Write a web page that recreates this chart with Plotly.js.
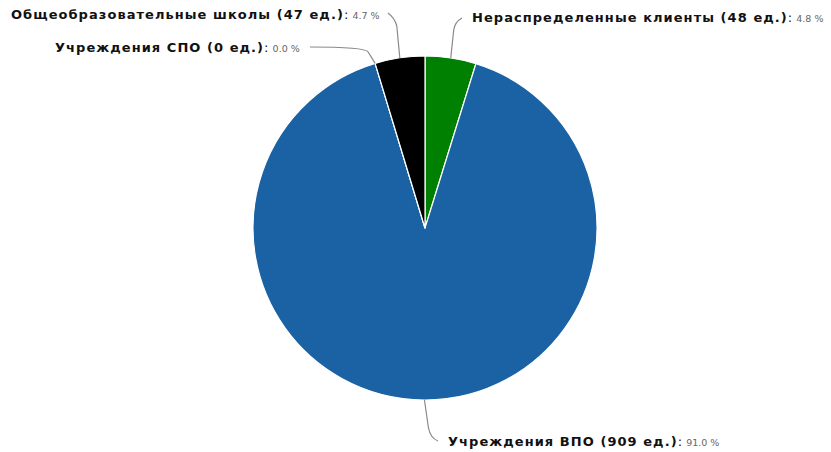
<!DOCTYPE html>
<html>
<head>
<meta charset="utf-8">
<script src="https://cdn.plot.ly/plotly-3.0.1.min.js"></script>
<style>html,body{margin:0;padding:0;background:#fff;}#chart{width:831px;height:452px;}</style>
</head>
<body>
<div id="chart"></div>
<script>
// ---- data ----
var categories = ["Нераспределенные клиенты", "Учреждения ВПО", "Учреждения СПО", "Общеобразовательные школы"];
var counts = [48, 909, 0, 47];
var percentLabels = ["4.8 %", "91.0 %", "0.0 %", "4.7 %"];
var sliceColors = ["#008000", "#1a62a3", "#7fb7e0", "#000000"];

// ---- layout constants (pixels) ----
var W = 831, H = 452;
var CX = 425, CY = 228, R = 172;
var labelPos = [
  {x: 470, y: 18, anchor: "left",  path: function(a){ return [[a[0],a[1]],[a[0]+3,30],[a[0]+4,22],[462,18]]; }},
  {x: 446, y: 441, anchor: "left", path: function(a){ return [[a[0],a[1]],[a[0]+4,428],[a[0]+6,438],[438,441]]; }},
  {x: 302, y: 48, anchor: "right", path: function(a){ return [[a[0],a[1]],[a[0]-7,52],[a[0]-10,47],[310,47]]; }},
  {x: 382, y: 15, anchor: "right", path: function(a){ return [[a[0],a[1]],[a[0]-3,26],[a[0]-5,18],[388,13]]; }}
];

function px(x){ return x / W; }
function py(y){ return 1 - y / H; }

var total = counts.reduce(function(s,v){return s+v;}, 0);
var cum = 0;
var anchors = counts.map(function(v){
  var mid = (cum + v/2) / total * 2 * Math.PI;
  cum += v;
  return [CX + R*Math.sin(mid), CY - R*Math.cos(mid)];
});

var shapes = [], annotations = [];
categories.forEach(function(c, i){
  var pts = labelPos[i].path(anchors[i]);
  var d = "M" + px(pts[0][0]) + "," + py(pts[0][1]) +
          " L" + px(pts[1][0]) + "," + py(pts[1][1]) +
          " Q" + px(pts[2][0]) + "," + py(pts[2][1]) + " " + px(pts[3][0]) + "," + py(pts[3][1]);
  shapes.push({type: "path", xref: "paper", yref: "paper", path: d,
               line: {color: "#8a8a8a", width: 1.2}});
  annotations.push({
    xref: "paper", yref: "paper", x: px(labelPos[i].x), y: py(labelPos[i].y),
    xanchor: labelPos[i].anchor, yanchor: "middle", showarrow: false,
    text: "<span style='letter-spacing:1.05px'><b>" + c + " (" + counts[i] + " ед.)</b></span>: <span style='font-size:9.5px;font-weight:normal;color:#666'>" + percentLabels[i] + "</span>",
    font: {family: "DejaVu Sans, Verdana, sans-serif", size: 13, color: "#111"}
  });
});

var trace = {
  type: "pie",
  labels: categories,
  values: counts,
  sort: false,
  direction: "clockwise",
  rotation: 0,
  textinfo: "none",
  hoverinfo: "label+value+percent",
  marker: {colors: sliceColors, line: {color: "#ffffff", width: 1.2}},
  domain: {x: [px(CX - R), px(CX + R)], y: [py(CY + R), py(CY - R)]},
  showlegend: false
};

var layout = {
  width: W, height: H,
  margin: {l: 0, r: 0, t: 0, b: 0},
  paper_bgcolor: "#ffffff",
  showlegend: false,
  shapes: shapes,
  annotations: annotations
};

Plotly.newPlot("chart", [trace], layout, {displayModeBar: false, staticPlot: true});
</script>
</body>
</html>
